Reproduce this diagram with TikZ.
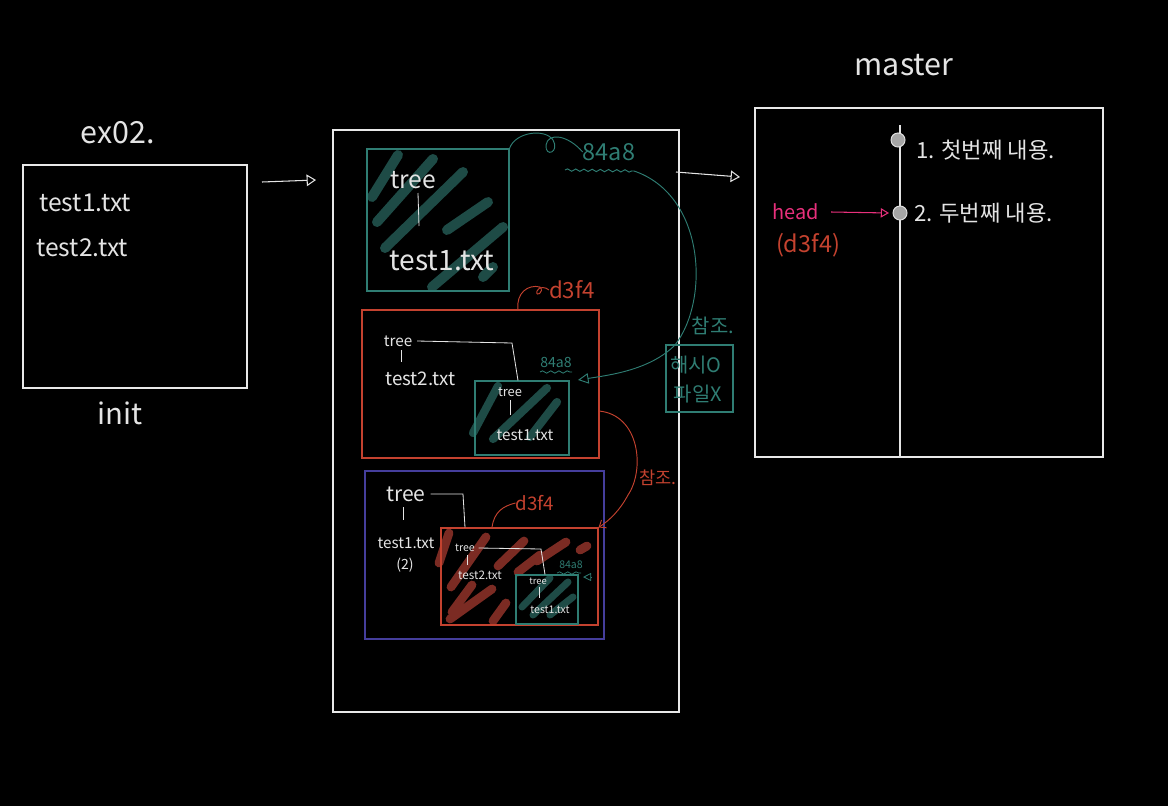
\documentclass[tikz,border=0pt]{standalone}
\usepackage{fontspec}
\setmainfont{Noto Sans CJK KR}
\usetikzlibrary{arrows.meta,fit,decorations.pathmorphing}
\definecolor{chalk}{HTML}{E4E4E4}
\definecolor{tealline}{HTML}{2F7D73}
\definecolor{tealfill}{HTML}{1E4B46}
\definecolor{redline}{HTML}{C4422F}
\definecolor{redfill}{HTML}{7B2B23}
\definecolor{blueline}{HTML}{453E9C}
\definecolor{pinkhead}{HTML}{E8307C}
\newcommand\txtsize[1]{\fontsize{#1}{#1}\selectfont}
\tikzset{
  frame/.style={draw=chalk!85, line width=0.9pt, inner sep=0pt},
  tealbox/.style={draw=tealline, line width=0.9pt, inner sep=0pt},
  redbox/.style={draw=redline, line width=0.9pt, inner sep=0pt},
  bluebox/.style={draw=blueline, line width=0.9pt, inner sep=0pt},
  hand/.style={text=chalk, inner sep=0pt},
  chalkline/.style={draw=chalk, line width=0.7pt},
  chalkarrow/.style={draw=chalk, line width=0.9pt, -{Triangle[open,length=8pt,width=10pt]}},
  tealhatch/.style={draw=tealfill, line width=#1, line cap=round},
  tealhatch/.default=8.5pt,
  redhatch/.style={draw=redfill, line width=#1, line cap=round},
  redhatch/.default=7.5pt,
  wavy/.style={decorate, decoration={snake, amplitude=1pt, segment length=7pt}},
  commitdot/.style={circle, draw=chalk, fill=gray!70, line width=0.8pt, minimum size=12pt, inner sep=0pt},
}
\begin{document}
\begin{tikzpicture}[x=0.03cm, y=-0.03cm]
\fill[black] (0,0) rectangle (1168,806);
\useasboundingbox (0,0) rectangle (1168,806);

% working directory
\node[frame, fit={(23,165) (247,388)}] (workdir) {};
\node[hand, font=\txtsize{21}, anchor=west] (wfile1) at (39,203) {test1.txt};
\node[hand, font=\txtsize{21}, anchor=west] (wfile2) at (36,248) {test2.txt};
\node[hand, font=\txtsize{26}] (exname) at (118,133) {ex02.};
\node[hand, font=\txtsize{25}] (initlbl) at (120,413) {init};
\coordinate (wa) at (262,182);
\coordinate (wb) at (316,180);
\draw[chalkarrow] (wa) -- (wb);

% object store
\node[frame, fit={(333,130) (679,712)}] (objects) {};
\coordinate (oa) at (676,172);
\coordinate (ob) at (740,177);
\draw[chalkarrow] (oa) -- (ob);

% tree 84a8
\foreach \xa/\ya/\xb/\yb in {398/155/372/197, 433/159/377/222, 463/172/385/248,
    488/202/447/230, 503/227/432/287, 493/267/483/277}
  \draw[tealhatch] (\xa,\ya) -- (\xb,\yb);
\node[tealbox, fit={(367,149) (509,291)}] (blobA) {};
\node[hand, font=\txtsize{21}] (treeA) at (413,180) {tree};
\node[hand, font=\txtsize{24}] (fileA) at (442,261) {test1.txt};
\draw[chalkline] (418,193) -- (419,226);
\node[text=tealline, inner sep=0pt, font=\txtsize{20}] (hashA) at (609,152) {84a8};
\coordinate (waveAs) at (565,170);
\coordinate (waveAe) at (634,171);
\draw[tealline, line width=0.8pt, wavy] (waveAs) -- (waveAe);
\draw[tealline, line width=0.8pt] (blobA.north east) .. controls (515,132) and (545,128) .. (553,140)
  .. controls (560,152) and (545,158) .. (546,145) .. controls (548,132) and (568,135) .. (hashA.west);

% tree d3f4
\node[redbox, fit={(362,310) (599,458)}] (treeB) {};
\node[text=redline, inner sep=0pt, font=\txtsize{19}] (hashB) at (572,290) {d3f4};
\draw[redline, line width=0.8pt] (treeB.north -| 518,0) .. controls (516,293) and (528,284) .. (540,287)
  .. controls (545,292) and (535,298) .. (537,291) .. controls (539,286) and (546,287) .. (hashB.west);
\node[hand, font=\txtsize{13}] (treeB1) at (398,341) {tree};
\draw[chalkline] (401,350) -- (401,362);
\node[hand, font=\txtsize{16}, anchor=west] (fileB1) at (385,379) {test2.txt};
\foreach \xa/\ya/\xb/\yb in {498/386/473/433, 547/388/493/439, 557/402/530/437}
  \draw[tealhatch=7pt] (\xa,\ya) -- (\xb,\yb);
\node[tealbox, fit={(475,381) (569,455)}] (blobB) {};
\node[hand, font=\txtsize{11}] (treeB2) at (510,392) {tree};
\draw[chalkline] (510,400) -- (510,415);
\node[hand, font=\txtsize{13}] (fileB2) at (525,435) {test1.txt};
\coordinate (kB) at (512,343);
\draw[chalkline] ([xshift=4pt]treeB1.east) -- (kB) -- (blobB.north -| 518,0);
\node[text=tealline, inner sep=0pt, font=\txtsize{12}] (hashB2) at (556,362) {84a8};
\coordinate (waveBs) at (540,372);
\coordinate (waveBe) at (572,372);
\draw[tealline, line width=0.7pt, wavy] (waveBs) -- (waveBe);
\coordinate (tipB) at (578,380);
\draw[tealline, line width=0.8pt, -{Triangle[open,length=9pt,width=9pt]}] (waveAe)
  .. controls (705,195) and (710,300) .. (675,345) .. controls (650,370) and (610,375) .. (tipB);

% tree with test1.txt (2)
\node[bluebox, fit={(365,471) (604,639)}] (treeC) {};
\node[hand, font=\txtsize{18}] (treeC1) at (406,494) {tree};
\draw[chalkline] (403,507) -- (403,520);
\node[hand, font=\txtsize{13}] (fileC1) at (406,543) {test1.txt};
\node[hand, font=\txtsize{12}] (verC) at (405,565) {(2)};
\foreach \xa/\ya/\xb/\yb in {449/533/439/563, 486/537/451/587, 524/541/498/566,
    566/542/537/561, 587/546/580/550, 492/589/450/619, 506/603/493/621,
    472/585/452/612, 540/555/518/572}
  \draw[redhatch] (\xa,\ya) -- (\xb,\yb);
\node[redbox, fit={(441,528) (598,625)}] (treeD) {};
\node[text=redline, inner sep=0pt, font=\txtsize{16}] (hashD) at (535,503) {d3f4};
\draw[redline, line width=0.8pt] (treeD.north -| 492,0) .. controls (494,512) and (503,506) .. (hashD.west);
\coordinate (kC) at (463,494);
\draw[chalkline] ([xshift=4pt]treeC1.east) -- (kC) -- (treeD.north -| 465,0);
\node[hand, font=\txtsize{9}] (treeD1) at (465,548) {tree};
\draw[chalkline] (467,555) -- (467,565);
\node[hand, font=\txtsize{10}] (fileD1) at (480,575) {test2.txt};
\foreach \xa/\ya/\xb/\yb in {550/578/522/607, 568/582/533/615, 573/597/550/615}
  \draw[tealhatch=6pt] (\xa,\ya) -- (\xb,\yb);
\node[tealbox, fit={(516,575) (578,624)}] (blobD) {};
\node[hand, font=\txtsize{8}] (treeD2) at (538,581) {tree};
\draw[chalkline] (539,587) -- (539,598);
\node[hand, font=\txtsize{9}] (fileD2) at (550,610) {test1.txt};
\coordinate (kD) at (541,549);
\draw[chalkline] ([xshift=3pt]treeD1.east) -- (kD) -- (blobD.north -| 545,0);
\node[text=tealline, inner sep=0pt, font=\txtsize{9}] (hashD2) at (571,565) {84a8};
\coordinate (waveDs) at (557,573);
\coordinate (waveDe) at (581,573);
\draw[tealline, line width=0.6pt, wavy] (waveDs) -- (waveDe);
\coordinate (tipD) at (583,577);
\coordinate (tipDs) at (592,577);
\draw[tealline, line width=0.7pt, -{Triangle[open,length=7pt,width=7pt]}] (tipDs) -- (tipD);

% reference from d3f4
\coordinate (refB) at (599,411);
\draw[redline, line width=0.8pt, -{Straight Barb[length=5pt,width=8pt]}] (refB)
  .. controls (640,415) and (645,470) .. (628,495) .. controls (620,510) and (610,520) .. (treeD.north east);
\node[text=redline, inner sep=0pt, font=\txtsize{15}] (refR) at (658,478) {참조.};

% hash, not file
\node[tealbox, fit={(666,345) (733,412)}] (hashnote) {};
\node[text=tealline, inner sep=0pt, font=\txtsize{17}] (noteA) at (696,365) {해시O};
\node[text=tealline, inner sep=0pt, font=\txtsize{17}] (noteB) at (698,394) {파일X};
\node[text=tealline, inner sep=0pt, font=\txtsize{17}] (refT) at (713,326) {참조.};

% master branch
\node[frame, fit={(755,108) (1103,457)}] (branch) {};
\node[hand, font=\txtsize{26}] (mastername) at (904,65) {master};
\coordinate (hist) at (900,125);
\draw[chalkline, line width=0.9pt] (hist) -- (hist |- branch.south);
\node[commitdot] (c1) at (898,140) {};
\node[commitdot] (c2) at (900,213) {};
\node[hand, font=\txtsize{19}, anchor=west] (msg1) at (916,150) {1. 첫번째 내용.};
\node[hand, font=\txtsize{19}, anchor=west] (msg2) at (914,213) {2. 두번째 내용.};
\node[text=pinkhead, inner sep=0pt, font=\txtsize{17}] (head) at (796,212) {head};
\node[text=redline, inner sep=0pt, font=\txtsize{20}] (headhash) at (808,245) {(d3f4)};
\draw[pinkhead, line width=0.9pt, -{Triangle[open,length=7pt,width=8pt]}] ([xshift=10pt]head.east) -- ([xshift=-3pt]c2.west);
\end{tikzpicture}
\end{document}
